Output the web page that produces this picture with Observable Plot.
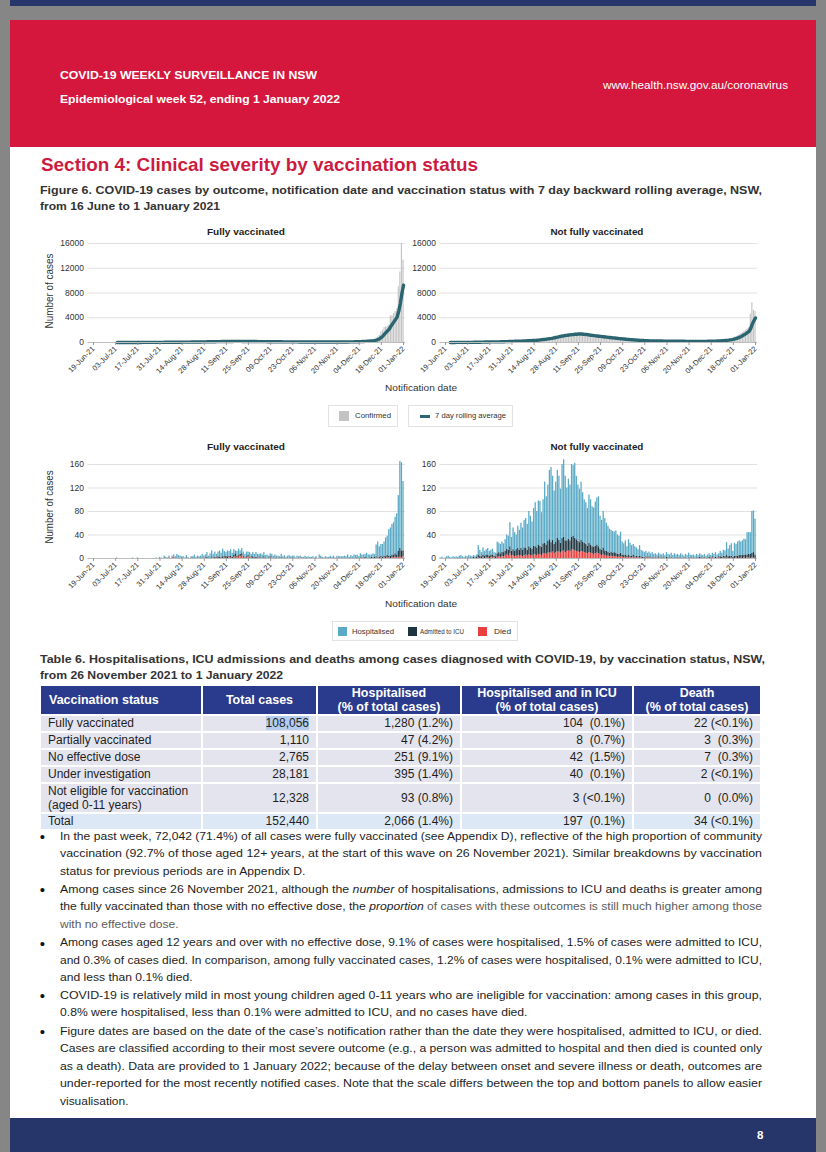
<!DOCTYPE html>
<html><head><meta charset="utf-8">
<script src="https://cdn.jsdelivr.net/npm/d3@7"></script>
<script src="https://cdn.jsdelivr.net/npm/@observablehq/plot@0.6"></script>
<style>
html,body{margin:0;padding:0}
body{position:relative;width:826px;height:1152px;overflow:hidden;background:#868686;font-family:"Liberation Sans",Arial,Helvetica,sans-serif;}
.blk{position:absolute}
table.t6{position:absolute;left:39px;top:684px;width:723px;border-collapse:separate;border-spacing:2px;table-layout:fixed;font-size:12px;color:#1e1e1e;background:#fff}
table.t6 th{background:#2a3a8c;color:#fff;font-weight:700;font-size:12.5px;line-height:14px;height:28px;padding:0;text-align:center;box-sizing:border-box}
table.t6 th:first-child{text-align:left;padding-left:8px}
table.t6 td{background:#e4e4ee;height:15px;padding:0 7px 0 6px;text-align:right;white-space:pre;line-height:15px;box-sizing:border-box}
table.t6 td:first-child{text-align:left;padding-left:7px;white-space:normal}
table.t6 tr.two td{height:26px}
table.t6 tr.two td:first-child{line-height:14px}
table.t6 tr.tot td{background:#dde8f6}
.hl{background:#b4cdee}
.lgbox{position:absolute;border:1px solid #e2e2e2;background:#fff;box-sizing:border-box}
.sw{position:absolute}
</style></head><body>
<div class="blk" style="left:10px;top:0;width:806px;height:6px;background:#27366a"></div>
<div class="blk" style="left:10px;top:20px;width:806px;height:1098px;background:#fff"></div>
<div class="blk" style="left:10px;top:20px;width:806px;height:127px;background:#d6173d"></div>
<div class="blk" style="left:10px;top:1118px;width:806px;height:34px;background:#27366a"></div>
<div id="charts"></div>
<script>
// ---------------- DATA ----------------
const tickLabels = ["19-Jun-21","03-Jul-21","17-Jul-21","31-Jul-21","14-Aug-21","28-Aug-21","11-Sep-21","25-Sep-21","09-Oct-21","23-Oct-21","06-Nov-21","20-Nov-21","04-Dec-21","18-Dec-21","01-Jan-22"];
const yTicksTop = [0, 4000, 8000, 12000, 16000];
const yTicksBottom = [0, 40, 80, 120, 160];
const outcomes = ["Died", "Admitted to ICU", "Hospitalised"];
const outcomeColors = ["#e8403e", "#1d3441", "#5aaac6"];

// Daily confirmed cases, 16 Jun 2021 .. 1 Jan 2022 (200 days), rows of 10 days
const confFV = [
 null,null,null,null,null,null,null,null,null,null,
 null,null,3,4,5,4,6,5,6,7,
 4,7,8,6,9,10,8,7,11,12,
 10,14,12,15,13,18,16,20,17,22,
 25,21,28,24,30,27,33,35,31,38,
 40,36,45,42,50,48,55,52,60,58,
 65,70,62,75,80,72,88,90,85,98,
 105,100,112,120,110,125,130,128,140,135,
 150,145,160,155,170,165,175,168,180,172,
 178,170,182,175,168,180,172,165,170,160,
 162,155,158,150,145,152,140,142,135,138,
 130,132,125,128,120,122,115,118,110,112,
 108,110,104,100,105,98,96,100,94,92,
 95,90,88,92,86,90,84,88,82,85,
 80,84,78,82,76,80,75,78,74,77,
 72,76,70,74,78,72,80,76,82,85,
 88,92,95,100,105,110,115,120,130,140,
 150,165,180,200,220,240,260,280,300,350,
 400,500,700,900,1200,1700,2000,2400,2500,2600,
 2800,4300,4300,4700,5000,5400,9000,11400,16000,13300];
const confNFV = [
 2,3,5,4,8,10,9,11,14,18,
 29,30,17,22,19,24,31,35,26,32,
 27,38,44,35,50,77,111,95,97,65,
 105,108,110,98,78,110,124,119,136,163,
 141,170,172,230,165,200,234,190,195,220,
 260,280,290,320,330,300,310,340,390,410,
 380,420,430,560,600,580,620,680,700,720,
 820,910,940,1030,1010,1160,1120,1220,1170,1290,
 1240,1330,1290,1420,1360,1380,1310,1460,1350,1280,
 1250,1200,1180,1150,1100,1080,1050,1000,980,950,
 920,900,870,830,800,780,750,710,690,660,
 630,610,580,560,540,510,490,460,440,420,
 400,380,360,340,330,320,300,290,280,270,
 260,250,245,240,238,235,232,230,228,225,
 230,225,220,215,210,210,205,200,200,195,
 195,190,190,185,185,180,180,180,178,175,
 175,175,178,180,182,185,190,195,200,205,
 210,220,230,240,255,270,290,310,340,370,
 400,450,500,560,620,700,850,950,1100,1250,
 1400,1600,1800,2000,2200,2400,4600,6400,5200,5000];

// Outcomes, fully vaccinated
const hospFV = [
 0,0,0,0,0,0,0,0,0,0, 0,0,0,0,0,0,0,0,1,0, 0,0,0,0,0,0,0,0,1,0, 0,1,0,0,0,0,0,0,0,0,
 0,0,0,1,0,2,1,0,3,2, 1,3,0,2,4,3,6,5,4,2, 3,1,4,2,0,1,3,5,2,4, 2,4,6,3,5,8,4,7,10,6,
 9,5,8,11,7,13,9,6,10,8, 11,7,9,5,8,10,6,9,7,5, 8,6,9,4,7,5,8,6,4,7, 5,7,4,6,3,5,6,4,5,3,
 4,2,5,3,4,2,3,5,2,4, 3,1,4,2,3,1,2,4,1,3, 2,1,3,1,2,0,5,3,2,1, 3,2,1,4,2,3,1,2,4,2,
 3,2,4,3,5,2,4,3,6,4, 5,3,7,4,6,5,8,6,5,4, 7,5,20,27,18,20,22,24,32,33, 45,48,52,56,62,70,95,148,150,118];
const icuFV = [
 0,0,0,0,0,0,0,0,0,0, 0,0,0,0,0,0,0,0,0,0, 0,0,0,0,0,0,0,0,0,0, 0,0,0,0,0,0,0,0,0,0,
 0,0,0,0,0,0,0,0,1,0, 0,1,0,0,1,0,1,0,0,1, 0,0,1,0,0,1,0,1,0,0, 1,0,1,0,1,2,0,1,2,1,
 2,1,3,2,1,3,2,4,3,2, 3,2,4,5,3,2,4,3,2,1, 2,3,1,2,3,1,2,1,2,1, 1,2,1,0,1,2,1,0,1,1,
 0,1,1,0,1,0,1,0,1,0, 1,0,0,1,0,1,0,0,1,0, 0,1,0,0,1,0,0,1,0,0, 0,0,1,0,0,1,0,0,0,1,
 0,1,0,0,1,0,1,0,0,1, 1,0,1,1,0,2,1,0,1,2, 1,2,2,1,2,3,2,3,3,4, 3,4,5,4,6,5,10,15,12,10];
const diedFV = [
 0,0,0,0,0,0,0,0,0,0, 0,0,0,0,0,0,0,0,0,0, 0,0,0,0,0,0,0,0,0,0, 0,0,0,0,0,0,0,0,0,0,
 0,0,0,0,0,0,0,0,0,0, 0,0,0,2,1,0,0,0,0,0, 0,0,0,0,0,1,0,0,0,0, 0,0,0,1,0,0,0,0,1,0,
 0,1,0,0,1,0,1,0,0,2, 1,0,2,3,1,4,3,5,2,1, 1,2,0,1,0,1,0,0,1,0, 0,1,0,0,0,1,0,0,0,0,
 0,0,1,0,0,0,0,0,0,0, 0,0,0,0,1,0,0,0,0,0, 0,0,0,0,0,0,1,0,0,0, 0,0,0,0,0,0,0,1,0,0,
 0,0,0,0,0,0,0,0,0,0, 0,0,0,1,0,0,0,0,0,0, 0,0,1,0,0,1,0,1,0,1, 1,0,1,1,2,1,2,2,1,3];

// Outcomes, not fully vaccinated
const hospNFV = [
 1,2,0,1,3,4,2,1,3,2, 3,2,3,5,3,2,3,3,4,4, 2,3,3,4,16,10,7,12,8,9, 11,8,8,10,6,6,20,16,16,17,
 15,20,24,24,41,24,37,32,25,38, 34,43,38,47,50,44,60,54,46,64, 75,62,75,76,59,75,104,82,96,118,
 128,109,91,102,116,109,92,126,132,110, 90,102,95,124,120,128,108,96,91,99, 84,74,71,64,82,77,68,67,75,80,
 85,56,51,62,55,48,44,41,37,37, 35,38,33,31,36,22,20,24,16,26, 22,18,18,17,14,12,18,11,10,8,
 9,8,8,7,8,6,7,5,6,6, 5,6,5,8,6,5,7,5,7,5, 6,4,7,5,3,6,5,8,5,4, 5,4,6,4,6,5,4,5,4,5,
 6,4,6,6,8,5,5,9,7,10, 10,22,13,18,21,10,22,20,24,25, 23,25,27,26,38,37,37,71,71,61];
const icuNFV = [
 0,0,0,0,0,0,0,0,0,0, 0,0,1,0,0,0,1,0,1,0, 1,2,1,2,5,4,3,5,4,5, 5,4,5,4,3,3,6,7,6,8,
 7,8,10,9,12,8,10,9,11,12, 10,12,11,13,12,10,14,13,12,15, 14,13,16,15,14,17,18,16,20,22,
 18,20,16,18,22,20,17,22,23,20, 18,20,19,22,23,21,20,18,17,19, 17,16,15,13,16,14,12,12,13,14,
 12,10,9,11,8,8,7,6,7,6, 7,6,5,5,6,4,4,4,3,4, 3,3,4,2,3,2,3,2,2,1,
 2,1,2,1,1,1,1,1,2,1, 1,1,0,2,1,1,1,0,1,1, 1,1,1,0,1,1,0,1,1,1, 1,0,1,1,2,1,1,1,0,1,
 2,1,2,1,2,1,2,3,2,3, 3,4,3,4,3,2,4,3,4,5, 4,5,5,6,5,6,7,8,9,6];
const diedNFV = [
 0,0,0,0,0,0,0,0,0,0, 0,0,0,0,0,0,0,0,0,0, 0,0,0,0,1,0,0,1,0,1, 1,0,1,2,1,0,2,3,2,3,
 3,4,6,5,8,4,5,3,4,5, 4,5,3,5,6,4,6,5,4,6, 6,5,7,6,5,8,8,7,9,10,
 9,11,8,10,12,11,9,12,13,10, 12,13,11,14,15,13,12,11,10,12, 11,10,9,8,10,9,8,7,8,9,
 8,6,5,7,5,4,4,3,4,3, 3,3,2,2,3,2,1,2,1,2, 1,1,2,1,1,1,1,1,0,1,
 1,0,1,0,1,0,0,0,1,0, 0,1,0,0,0,0,1,0,0,0, 0,0,0,1,0,0,0,0,0,0, 0,0,0,0,0,0,0,1,0,0,
 0,0,1,0,0,0,1,0,0,1, 0,1,0,0,1,0,0,1,0,0, 1,0,1,0,1,1,0,1,1,0];

// Table 6
const tblStatus = ["Fully vaccinated","Partially vaccinated","No effective dose","Under investigation","Not eligible for vaccination<br>(aged 0-11 years)","Total"];
const tblTotal = ["108,056","1,110","2,765","28,181","12,328","152,440"];
const tblHosp = ["1,280 (1.2%)","47 (4.2%)","251 (9.1%)","395 (1.4%)","93 (0.8%)","2,066 (1.4%)"];
const tblICU = ["104  (0.1%)","8  (0.7%)","42  (1.5%)","40  (0.1%)","3 (<0.1%)","197  (0.1%)"];
const tblDeath = ["22 (<0.1%)","3  (0.3%)","7  (0.3%)","2 (<0.1%)","0  (0.0%)","34 (<0.1%)"];

// ---------------- TEXT HELPER ----------------
function T(x, yc, w, size, html, o = {}) {
  const el = document.createElement("div");
  el.innerHTML = html;
  el.style.cssText = `position:absolute;white-space:nowrap;line-height:1;font-size:${size}px;font-weight:${o.bold?700:400};color:${o.color||"#222"};left:0;top:${yc-0.52*size}px;`;
  document.body.appendChild(el);
  const nw = el.getBoundingClientRect().width;
  const s = w ? w / nw : 1;
  const anchor = o.anchor || "start";
  const left = anchor === "start" ? x : anchor === "middle" ? x - nw/2 : x - nw;
  el.style.left = left + "px";
  el.style.transformOrigin = anchor === "start" ? "0 50%" : anchor === "middle" ? "50% 50%" : "100% 50%";
  el.style.transform = (o.rot ? `rotate(${o.rot}deg) ` : "") + `scaleX(${s})`;
  return el;
}

// ---------------- CHARTS ----------------
const start = new Date(Date.UTC(2021,5,16));
const dates = d3.utcDay.range(start, new Date(Date.UTC(2022,0,2)));
const parse = d3.utcParse("%d-%b-%y");
const tickDates = tickLabels.map(s => d3.utcHour.offset(parse(s), 12));
const labelMap = new Map(tickDates.map((d,i) => [+d, tickLabels[i]]));
const xDomain = [start, new Date(Date.UTC(2022,0,2,18))];
const plotW = 317.5;

function panel({left, top, plotLeft, plotTop, plotH, yMax, yTicks, marks, color}) {
  const mL = plotLeft - left, mT = plotTop - top, mB = 50;
  const width = Math.ceil(mL + plotW + 15);
  const svg = Plot.plot({
    width, height: mT + plotH + mB,
    marginLeft: mL, marginRight: width - mL - plotW, marginTop: mT, marginBottom: mB,
    x: {type: "utc", domain: xDomain},
    y: {domain: [0, yMax]},
    color,
    style: {background: "transparent", fontFamily: "Liberation Sans, Arial, sans-serif", color: "#333", overflow: "visible"},
    marks: [
      Plot.gridY(yTicks, {stroke: "#d9d9d9", strokeOpacity: 1, strokeWidth: 0.8}),
      ...marks,
      Plot.ruleY([0], {stroke: "#bdbdbd"}),
      Plot.axisY(yTicks, {tickSize: 0, tickPadding: 4, fontSize: 8.5, fill: "#333", tickFormat: d => String(d), label: null}),
      Plot.axisX(tickDates, {tickRotate: -45, tickSize: 3, tickPadding: 2, fontSize: 7.5, stroke: "#9a9a9a", fill: "#333", tickFormat: d => labelMap.get(+d), label: null})
    ]
  });
  const wrap = document.createElement("div");
  wrap.style.cssText = `position:absolute;left:${left}px;top:${top}px;`;
  wrap.appendChild(svg);
  document.getElementById("charts").appendChild(wrap);
}

function topMarks(conf) {
  const rows = dates.map((d, i) => ({date: d, mid: d3.utcHour.offset(d, 12), conf: conf[i]}));
  return [
    Plot.rectY(rows, {x: "date", interval: d3.utcDay, y: "conf", fill: "#c4c4c4", insetLeft: 0.2, insetRight: 0.2}),
    Plot.lineY(rows, Plot.windowY({k: 7, anchor: "end", strict: true}, {x: "mid", y: "conf", stroke: "#2a6571", strokeWidth: 3.4, strokeLinejoin: "round", strokeLinecap: "round"}))
  ];
}
function bottomMarks(hosp, icu, died) {
  const long = dates.flatMap((d, i) => [
    {date: d, outcome: "Died", v: died[i]},
    {date: d, outcome: "Admitted to ICU", v: icu[i]},
    {date: d, outcome: "Hospitalised", v: hosp[i]}
  ]);
  return [Plot.rectY(long, {x: "date", interval: d3.utcDay, y: "v", fill: "outcome", order: outcomes, insetLeft: 0.15, insetRight: 0.15})];
}
const colorScale = {domain: outcomes, range: outcomeColors};

panel({left: 20, top: 233, plotLeft: 87.5, plotTop: 243, plotH: 99, yMax: 16000, yTicks: yTicksTop, marks: topMarks(confFV)});
panel({left: 395, top: 233, plotLeft: 439.5, plotTop: 243, plotH: 99, yMax: 16000, yTicks: yTicksTop, marks: topMarks(confNFV)});
panel({left: 20, top: 454, plotLeft: 87.5, plotTop: 464, plotH: 94, yMax: 160, yTicks: yTicksBottom, marks: bottomMarks(hospFV, icuFV, diedFV), color: colorScale});
panel({left: 395, top: 454, plotLeft: 439.5, plotTop: 464, plotH: 94, yMax: 160, yTicks: yTicksBottom, marks: bottomMarks(hospNFV, icuNFV, diedNFV), color: colorScale});

// ---------------- HEADER TEXT ----------------
T(60, 76, 257, 11.5, "COVID-19 WEEKLY SURVEILLANCE IN NSW", {bold: true, color: "#fff"});
T(60, 99.5, 280, 11.5, "Epidemiological week 52, ending 1 January 2022", {bold: true, color: "#fff"});
T(603, 85.5, 185, 11.5, "www.health.nsw.gov.au/coronavirus", {color: "#fff"});
T(40.5, 165, 437, 19, "Section 4: Clinical severity by vaccination status", {bold: true, color: "#cc1b3f"});
T(40, 190.7, 722, 11.5, "Figure 6. COVID-19 cases by outcome, notification date and vaccination status with 7 day backward rolling average, NSW,", {bold: true, color: "#333"});
T(40, 206.7, 180, 11.5, "from 16 June to 1 January 2021", {bold: true, color: "#333"});

// chart titles & labels
T(246, 231.5, 78, 9.5, "Fully vaccinated", {bold: true, anchor: "middle"});
T(597, 231.5, 93, 9.5, "Not fully vaccinated", {bold: true, anchor: "middle"});
T(246, 447.3, 78, 9.5, "Fully vaccinated", {bold: true, anchor: "middle"});
T(597, 447.3, 93, 9.5, "Not fully vaccinated", {bold: true, anchor: "middle"});
T(50, 291, 75, 10, "Number of cases", {anchor: "middle", rot: -90, color: "#333"});
T(50, 507, 73, 10, "Number of cases", {anchor: "middle", rot: -90, color: "#333"});
T(421, 387.5, 72, 9.5, "Notification date", {anchor: "middle", color: "#333"});
T(421, 604, 72, 9.5, "Notification date", {anchor: "middle", color: "#333"});

// legends
function box(l, t, w, h) { const b = document.createElement("div"); b.className = "lgbox"; b.style.cssText += `left:${l}px;top:${t}px;width:${w}px;height:${h}px`; document.body.appendChild(b); }
function sw(l, t, w, h, c) { const b = document.createElement("div"); b.className = "sw"; b.style.cssText += `left:${l}px;top:${t}px;width:${w}px;height:${h}px;background:${c}`; document.body.appendChild(b); }
box(328, 405, 70, 22); sw(339, 411, 10, 10, "#c4c4c4"); T(355, 416, 36, 7.5, "Confirmed", {color: "#333"});
box(408, 405, 105, 22); sw(420, 414.5, 10, 3, "#2a6571"); T(435, 416, 71, 7.5, "7 day rolling average", {color: "#333"});
box(332, 621, 186, 20);
sw(338, 626.5, 9, 9, outcomeColors[2]); T(352, 631.5, 42, 7.5, "Hospitalised", {color: "#333"});
sw(408, 626.5, 9, 9, outcomeColors[1]); T(420, 631.5, 44, 7.5, "Admitted to ICU", {color: "#333"});
sw(478, 626.5, 9, 9, outcomeColors[0]); T(494, 631.5, 17, 7.5, "Died", {color: "#333"});

// ---------------- TABLE ----------------
T(40, 660, 725, 11.5, "Table 6. Hospitalisations, ICU admissions and deaths among cases diagnosed with COVID-19, by vaccination status, NSW,", {bold: true, color: "#333"});
T(40, 676, 243, 11.5, "from 26 November 2021 to 1 January 2022", {bold: true, color: "#333"});
(function () {
  const t = document.createElement("table");
  t.className = "t6";
  let h = `<colgroup><col style="width:160px"><col style="width:113px"><col style="width:142px"><col style="width:170px"><col style="width:126px"></colgroup>`;
  h += `<tr><th>Vaccination status</th><th>Total cases</th><th>Hospitalised<br>(% of total cases)</th><th>Hospitalised and in ICU<br>(% of total cases)</th><th>Death<br>(% of total cases)</th></tr>`;
  tblStatus.forEach((s, i) => {
    const cls = i === 4 ? "two" : i === 5 ? "tot" : "";
    const tot = i === 0 ? `<span class="hl">${tblTotal[i]}</span>` : tblTotal[i];
    h += `<tr class="${cls}"><td>${s}</td><td>${tot}</td><td>${tblHosp[i]}</td><td>${tblICU[i].replace(/</g,"&lt;")}</td><td>${tblDeath[i].replace(/</g,"&lt;")}</td></tr>`;
  });
  t.innerHTML = h;
  document.body.appendChild(t);
})();

// ---------------- BULLETS ----------------
const G = s => `<span style="color:#5c5c5c">${s}</span>`;
const bullets = [
  [836.7, ["In the past week, 72,042 (71.4%) of all cases were fully vaccinated (see Appendix D), reflective of the high proportion of community", 702],
          ["vaccination (92.7% of those aged 12+ years, at the start of this wave on 26 November 2021). Similar breakdowns by vaccination", 702],
          ["status for previous periods are in Appendix D.", 245.5]],
  [890, ["Among cases since 26 November 2021, although the <i>number</i> of hospitalisations, admissions to ICU and deaths is greater among", 702],
        ["the fully vaccinated than those with no effective dose, the <i>proportion</i> " + G("of cases with these outcomes is still much higher among those"), 702],
        [G("with no effective dose."), 118.5]],
  [943.3, ["Among cases aged 12 years and over with no effective dose, 9.1% of cases were hospitalised, 1.5% of cases were admitted to ICU,", 702],
          ["and 0.3% of cases died. In comparison, among fully vaccinated cases, 1.2% of cases were hospitalised, 0.1% were admitted to ICU,", 702],
          ["and less than 0.1% died.", 132.5]],
  [996, ["COVID-19 is relatively mild in most young children aged 0-11 years who are ineligible for vaccination: among cases in this group,", 702],
        ["0.8% were hospitalised, less than 0.1% were admitted to ICU, and no cases have died.", 467.5]],
  [1032, ["Figure dates are based on the date of the case’s notification rather than the date they were hospitalised, admitted to ICU, or died.", 702],
         ["Cases are classified according to their most severe outcome (e.g., a person was admitted to hospital and then died is counted only", 702],
         ["as a death). Data are provided to 1 January 2022; because of the delay between onset and severe illness or death, outcomes are", 702],
         ["under-reported for the most recently notified cases. Note that the scale differs between the top and bottom panels to allow easier", 702],
         ["visualisation.", 68.5]]
];
bullets.forEach(([y0, ...lines]) => {
  T(42.5, y0, 0, 15, "•", {color: "#111", anchor: "middle"});
  lines.forEach(([txt, w], j) => T(59.5, y0 + j * 17.4, w, 11.5, txt, {color: "#1e1e1e"}));
});

// footer
T(757, 1136, 0, 11.5, "8", {bold: true, color: "#fff"});
</script>
</body></html>
